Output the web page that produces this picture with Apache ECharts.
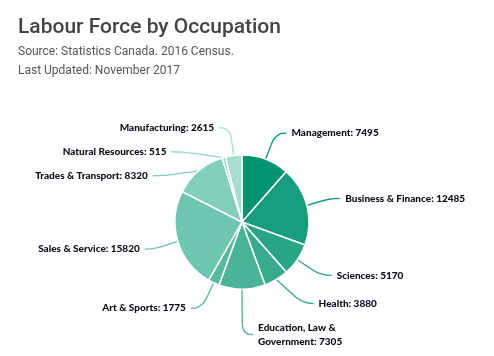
<!DOCTYPE html>
<html><head><meta charset="utf-8">
<script src="https://cdn.jsdelivr.net/npm/echarts@6/dist/echarts.min.js"></script>
<style>html,body{margin:0;padding:0;background:#fff}#c{width:494px;height:356px}</style>
</head><body><div id="c"></div>
<script>
const categories = ["Management","Business & Finance","Sciences","Health","Education, Law & Government","Art & Sports","Sales & Service","Trades & Transport","Natural Resources","Manufacturing"];
const values = [7495,12485,5170,3880,7305,1775,15820,8320,515,2615];
const colors = ["#009473","#179c7d","#28a486","#38ab8f","#49b498","#58bba0","#6fc6b0","#81cebb","#93d6c5","#a6ddcf"];
const titleText = "Labour Force by Occupation";
const sub1 = "Source: Statistics Canada. 2016 Census.";
const sub2 = "Last Updated: November 2017";

const chart = echarts.init(document.getElementById('c'));
chart.setOption({
  animation:false,
  graphic:[
    {type:'text',left:18,top:17,style:{text:titleText,font:'500 21px Roboto',fill:'#444'}},
    {type:'text',left:18,top:46,style:{text:sub1,font:'400 12px Roboto',fill:'#555'}},
    {type:'text',left:18,top:65,style:{text:sub2,font:'400 12px Roboto',fill:'#555'}}
  ],
  series:[{
    type:'pie',
    center:[242,222],
    radius:[0,67],
    startAngle:90,
    clockwise:true,
    itemStyle:{borderColor:'#fff',borderWidth:1.5},
    label:{
      formatter:p=>(p.name+': '+p.value).replace('Law & ','Law &\n'),
      color:'#0d0d1a',fontFamily:'Lato',fontWeight:900,fontSize:10,lineHeight:14,padding:[4,0]
    },
    labelLine:{length:28,length2:11,smooth:0.5,lineStyle:{width:1.3}},
    data:categories.map((c,i)=>({name:c,value:values[i],itemStyle:{color:colors[i]},labelLine:{lineStyle:{color:colors[i]}}}))
  }]
});
</script></body></html>
